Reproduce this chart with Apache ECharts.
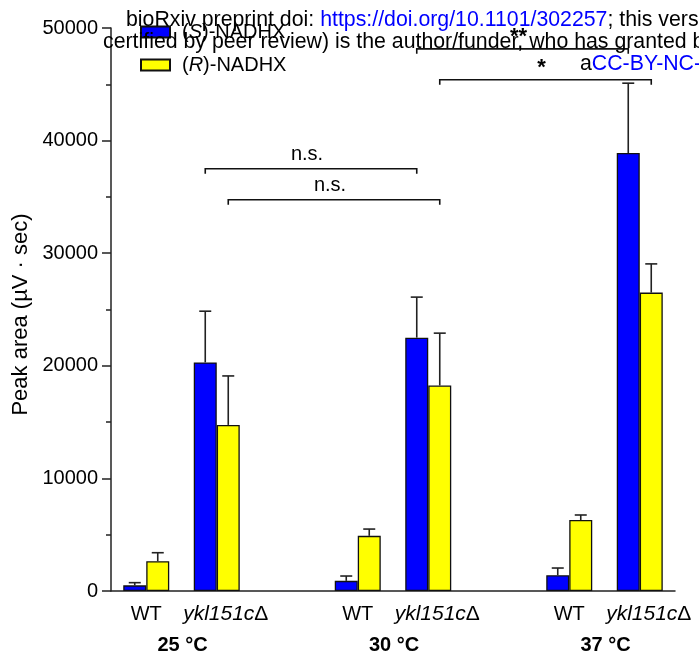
<!DOCTYPE html>
<html>
<head>
<meta charset="utf-8">
<script src="https://cdn.jsdelivr.net/npm/echarts@6/dist/echarts.min.js"></script>
<style>
  html, body { margin: 0; padding: 0; background: #fff; }
  #chart { width: 699px; height: 662px; }
</style>
</head>
<body>
<div id="chart"></div>
<script>
// Strains measured at each growth temperature
var strains = ['WT', 'ykl151cΔ'];
var temperatures = ['25 °C', '30 °C', '37 °C'];

// Mean peak areas (µV · sec), ordered WT/ykl151cΔ for 25, 30, 37 °C
var sNadhx = [500, 20300, 900, 22500, 1400, 38900];
var sNadhxErr = [240, 4550, 430, 3600, 640, 6200];
var rNadhx = [2650, 14750, 4900, 18250, 6300, 26500];
var rNadhxErr = [750, 4350, 600, 4650, 450, 2550];

// Y axis ticks
var yTicks = [0, 10000, 20000, 30000, 40000, 50000];

// Significance brackets: [group index from, group index to, height, series side, label]
var brackets = [
  [1, 3, 37500, 0, 'n.s.'],
  [1, 3, 34750, 1, 'n.s.'],
  [3, 5, 48150, 0, '**'],
  [3, 5, 45400, 1, '*']
];

var FONT = '"Liberation Sans", Arial, sans-serif';
var BAR_W = 23;

// Category slots: two strains per temperature, with an empty slot between temperatures
var slotOf = [];
var categories = [];
temperatures.forEach(function (t, ti) {
  strains.forEach(function (s) {
    slotOf.push(categories.length);
    categories.push(s);
  });
  if (ti < temperatures.length - 1) categories.push('');
});

function toSlots(arr) {
  var out = categories.map(function () { return null; });
  arr.forEach(function (v, i) { out[slotOf[i]] = v; });
  return out;
}
function errData(vals, errs) {
  return vals.map(function (v, i) { return [slotOf[i], v, errs[i]]; });
}

function errorBarRenderer(side) {
  return function (params, api) {
    var idx = api.value(0);
    var top = api.coord([idx, api.value(1) + api.value(2)]);
    var base = api.coord([idx, api.value(1)]);
    var x = base[0] + side * BAR_W / 2;
    var style = { stroke: '#222', lineWidth: 1.6 };
    return {
      type: 'group',
      children: [
        { type: 'line', shape: { x1: x, y1: base[1], x2: x, y2: top[1] }, style: style },
        { type: 'line', shape: { x1: x - 6, y1: top[1], x2: x + 6, y2: top[1] }, style: style }
      ]
    };
  };
}

function bracketRenderer(params, api) {
  var b = brackets[params.dataIndex];
  var side = b[3] === 0 ? -1 : 1;
  var p1 = api.coord([slotOf[b[0]], b[2]]);
  var p2 = api.coord([slotOf[b[1]], b[2]]);
  var x1 = p1[0] + side * BAR_W / 2;
  var x2 = p2[0] + side * BAR_W / 2;
  var y = p1[1];
  var star = b[4].indexOf('*') >= 0;
  return {
    type: 'group',
    children: [
      {
        type: 'polyline',
        shape: { points: [[x1, y + 5], [x1, y], [x2, y], [x2, y + 5]] },
        style: { stroke: '#111', lineWidth: 1.6, fill: null }
      },
      {
        type: 'text',
        x: (x1 + x2) / 2 - 4,
        y: star ? y - 12 : y - 14,
        style: {
          text: b[4],
          font: (star ? 'bold 22px ' : '20px ') + FONT,
          fill: '#000',
          align: 'center',
          verticalAlign: 'middle'
        }
      }
    ]
  };
}

var chart = echarts.init(document.getElementById('chart'), null, { renderer: 'canvas' });

var option = {
  backgroundColor: '#fff',
  animation: false,
  textStyle: { fontFamily: FONT },
  grid: { left: 111, right: 24, top: 28, bottom: 71, outerBoundsMode: 'none' },
  legend: {
    orient: 'vertical',
    left: 135,
    top: 17,
    itemWidth: 29,
    itemHeight: 11,
    itemGap: 13,
    icon: 'rect',
    data: ['(S)-NADHX', '(R)-NADHX'],
    formatter: function (name) {
      return name.replace(/\((\w)\)/, '({i|$1})');
    },
    textStyle: {
      fontSize: 20,
      color: '#000',
      padding: [0, 0, 0, 7],
      rich: { i: { fontSize: 20, fontStyle: 'italic', color: '#000' } }
    }
  },
  xAxis: {
    type: 'category',
    data: categories,
    axisLine: { lineStyle: { color: '#222', width: 1.5 } },
    axisTick: { show: false },
    axisLabel: {
      interval: 0,
      margin: 13,
      fontSize: 20,
      color: '#000',
      formatter: function (v) {
        if (v.indexOf('Δ') >= 0) return '{it|' + v.replace('Δ', '') + '}{d|Δ}';
        return v;
      },
      rich: {
        it: { fontSize: 21, fontStyle: 'italic', color: '#000', padding: [0, 0, 0, 18] },
        d: { fontSize: 21, color: '#000' }
      }
    }
  },
  yAxis: {
    type: 'value',
    min: yTicks[0],
    max: yTicks[yTicks.length - 1],
    interval: yTicks[1] - yTicks[0],
    name: 'Peak area (µV · sec)',
    nameLocation: 'middle',
    nameGap: 73,
    nameRotate: 90,
    nameTextStyle: { fontSize: 22, color: '#000', padding: [0, 10, 0, 0] },
    axisLine: { show: true, lineStyle: { color: '#222', width: 1.5 } },
    axisTick: { show: true, length: 9, lineStyle: { color: '#222', width: 1.5 } },
    minorTick: { show: true, splitNumber: 2, length: 5, lineStyle: { color: '#222', width: 1.5 } },
    splitLine: { show: false },
    axisLabel: {
      fontSize: 20,
      color: '#000',
      margin: 13,
      formatter: function (v) { return String(v); }
    }
  },
  series: [
    {
      name: '(S)-NADHX',
      type: 'bar',
      barWidth: BAR_W,
      barGap: '0%',
      data: toSlots(sNadhx),
      itemStyle: { color: '#0000ff', borderColor: '#111', borderWidth: 1.3 },
      z: 2
    },
    {
      name: '(R)-NADHX',
      type: 'bar',
      barWidth: BAR_W,
      barGap: '0%',
      data: toSlots(rNadhx),
      itemStyle: { color: '#ffff00', borderColor: '#111', borderWidth: 1.3 },
      z: 2
    },
    {
      type: 'custom',
      renderItem: errorBarRenderer(-1),
      data: errData(sNadhx, sNadhxErr),
      clip: false,
      z: 3,
      silent: true
    },
    {
      type: 'custom',
      renderItem: errorBarRenderer(1),
      data: errData(rNadhx, rNadhxErr),
      clip: false,
      z: 3,
      silent: true
    },
    {
      type: 'custom',
      renderItem: bracketRenderer,
      data: brackets.map(function (b) { return [slotOf[b[0]], b[2]]; }),
      clip: false,
      z: 4,
      silent: true
    }
  ]
};

chart.setOption(option);

// Temperature labels centred under each strain pair, and the preprint header lines
var graphics = temperatures.map(function (t, ti) {
  var a = chart.convertToPixel({ xAxisIndex: 0 }, slotOf[ti * 2]);
  var b = chart.convertToPixel({ xAxisIndex: 0 }, slotOf[ti * 2 + 1]);
  return {
    type: 'text',
    x: (a + b) / 2 + 1,
    y: 645,
    style: {
      text: t,
      font: 'bold 20px ' + FONT,
      fill: '#000',
      align: 'center',
      verticalAlign: 'middle'
    },
    z: 10
  };
});

var HEADER_FONT = '21.3px ' + FONT;
graphics.push({
  type: 'text',
  x: 126,
  y: 20,
  style: {
    text: 'bioRxiv preprint doi: {u|https://doi.org/10.1101/302257}; this vers',
    font: HEADER_FONT,
    fill: '#000',
    verticalAlign: 'middle',
    rich: { u: { fontSize: 21.3, fill: '#0000ff', color: '#0000ff' } }
  },
  z: 20
});
graphics.push({
  type: 'text',
  x: 103,
  y: 42,
  style: {
    text: 'certified by peer review) is the author/funder, who has granted b',
    font: HEADER_FONT,
    fill: '#000',
    verticalAlign: 'middle'
  },
  z: 20
});
graphics.push({
  type: 'text',
  x: 580,
  y: 64,
  style: {
    text: 'a{u|CC-BY-NC-}',
    font: HEADER_FONT,
    fill: '#000',
    verticalAlign: 'middle',
    rich: { u: { fontSize: 21.3, fill: '#0000ff', color: '#0000ff' } }
  },
  z: 20
});

chart.setOption({ graphic: graphics });
</script>
</body>
</html>
